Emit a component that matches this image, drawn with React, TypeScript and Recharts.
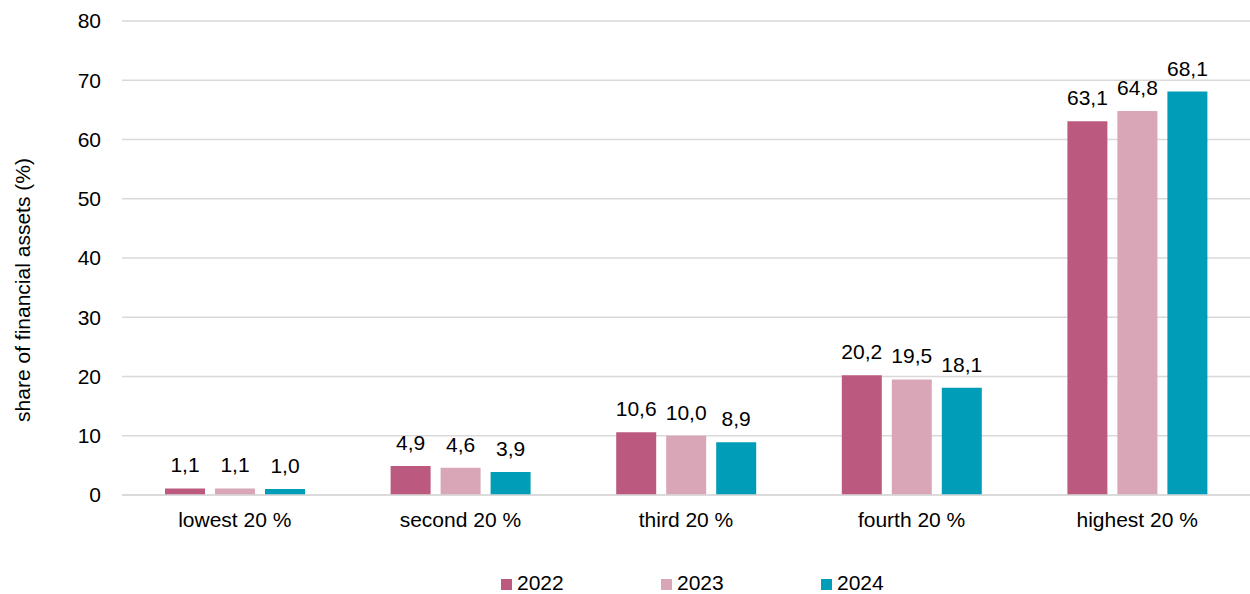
import React from "react";
import { BarChart, Bar, XAxis, YAxis, CartesianGrid, LabelList, Label } from "recharts";

const categories = ["lowest 20 %", "second 20 %", "third 20 %", "fourth 20 %", "highest 20 %"];
const values2022 = [1.1, 4.9, 10.6, 20.2, 63.1];
const values2023 = [1.1, 4.6, 10.0, 19.5, 64.8];
const values2024 = [1.0, 3.9, 8.9, 18.1, 68.1];
const yTicks = [0, 10, 20, 30, 40, 50, 60, 70, 80];
const seriesNames = ["2022", "2023", "2024"];
const colors = ["#bb5a7e", "#d8a6b7", "#009db8"];
const yLabel = "share of financial assets (%)";

const data = categories.map((c, i) => ({
  name: c,
  "2022": values2022[i],
  "2023": values2023[i],
  "2024": values2024[i],
}));

const FONT = "'Liberation Sans', Arial, sans-serif";
const fmt = (v: any) => Number(v).toFixed(1).replace(".", ",");

const LegendBlock = () => (
  <div
    style={{
      position: "absolute",
      left: 501,
      top: 571,
      display: "flex",
      alignItems: "center",
      fontFamily: FONT,
      fontSize: 21,
      color: "#000",
      height: 24,
    }}
  >
    {seriesNames.map((n, i) => (
      <div key={n} style={{ display: "flex", alignItems: "center", width: 160 }}>
        <span style={{ display: "inline-block", width: 11, height: 11, background: colors[i], marginRight: 5, marginTop: 2 }} />
        <span style={{ lineHeight: "24px" }}>{n}</span>
      </div>
    ))}
  </div>
);

const YLabel = () => (
  <text
    x={22}
    y={290}
    transform="rotate(-90 22 290)"
    textAnchor="middle"
    dominantBaseline="central"
    fontFamily={FONT}
    fontSize={21}
    fill="#000"
  >
    {yLabel}
  </text>
);

export default function App() {
  return (
    <div style={{ position: "absolute", left: 0, top: 0, width: 1250, height: 594, fontFamily: FONT }}>
      <BarChart
        width={1250}
        height={594}
        data={data}
        margin={{ top: 21, right: 0, bottom: 69, left: 0 }}
        barSize={40}
        barGap={10}
      >
        <CartesianGrid vertical={false} stroke="#d9d9d9" strokeWidth={1.5} />
        <XAxis
          dataKey="name"
          height={30}
          tickLine={false}
          axisLine={{ stroke: "#d9d9d9", strokeWidth: 1.5 }}
          tickMargin={11}
          tick={{ fill: "#000", fontSize: 21, fontFamily: FONT }}
          interval={0}
        />
        <YAxis
          width={122}
          domain={[0, 80]}
          ticks={yTicks}
          tickLine={false}
          axisLine={false}
          tickMargin={15}
          tick={{ fill: "#000", fontSize: 21, fontFamily: FONT }}
        >
          <Label content={<YLabel />} />
        </YAxis>
        {seriesNames.map((s, i) => (
          <Bar key={s} dataKey={s} fill={colors[i]} isAnimationActive={false}>
            <LabelList
              dataKey={s}
              position="top"
              offset={16}
              formatter={fmt}
              fill="#000"
              fontSize={21}
              fontFamily={FONT}
            />
          </Bar>
        ))}
      </BarChart>
      <LegendBlock />
    </div>
  );
}
